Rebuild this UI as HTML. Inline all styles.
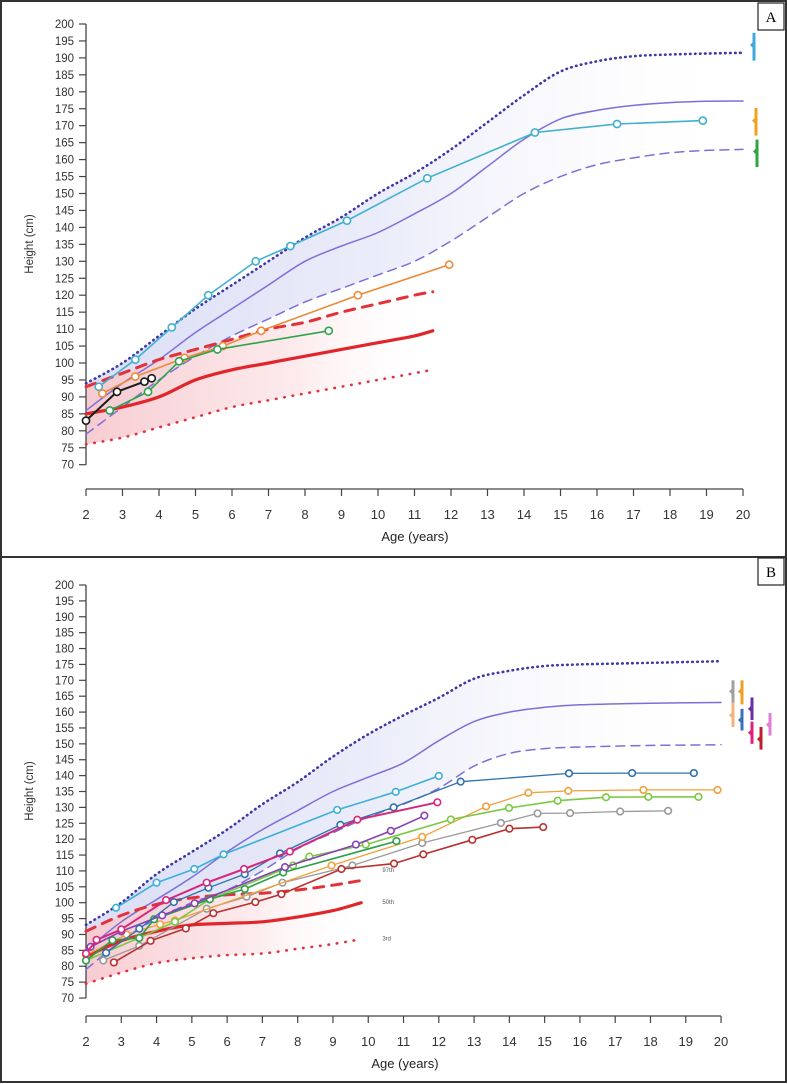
<!DOCTYPE html>
<html><head><meta charset="utf-8">
<style>
html,body{margin:0;padding:0;background:#fff;}
svg{display:block;font-family:"Liberation Sans",Arial,sans-serif;}
</style></head>
<body>
<svg id="fig" width="787" height="1084" viewBox="0 0 787 1084" xmlns="http://www.w3.org/2000/svg">
<defs>
  <linearGradient id="blueA" x1="0" x2="1" y1="0" y2="0">
    <stop offset="0" stop-color="#d9dcf5" stop-opacity="0.95"/>
    <stop offset="0.45" stop-color="#e6e8f8" stop-opacity="0.8"/>
    <stop offset="0.75" stop-color="#f4f4fb" stop-opacity="0.4"/>
    <stop offset="1" stop-color="#ffffff" stop-opacity="0"/>
  </linearGradient>
  <linearGradient id="pinkA" x1="0" x2="1" y1="0" y2="0">
    <stop offset="0" stop-color="#f7c9cf" stop-opacity="0.95"/>
    <stop offset="0.6" stop-color="#fbe1e4" stop-opacity="0.7"/>
    <stop offset="1" stop-color="#ffffff" stop-opacity="0"/>
  </linearGradient>
</defs>
<rect x="1" y="1" width="785" height="1081" fill="none" stroke="#333" stroke-width="2"/>
<line x1="1" y1="557" x2="786" y2="557" stroke="#333" stroke-width="2"/>
<g><rect x="758" y="3" width="26" height="27" fill="#fff" stroke="#222" stroke-width="1.2"/><text x="771" y="22" font-family="Liberation Serif,serif" font-size="15" text-anchor="middle">A</text></g>
<g><rect x="758" y="558" width="26" height="27" fill="#fff" stroke="#222" stroke-width="1.2"/><text x="771" y="577" font-family="Liberation Serif,serif" font-size="15" text-anchor="middle">B</text></g>
<g id="panelA"></g>
<g id="panelB"></g>
</svg>
<script>
// ---------- Panel A data ----------
const yTicks = [70,75,80,85,90,95,100,105,110,115,120,125,130,135,140,145,150,155,160,165,170,175,180,185,190,195,200];
const xTicks = [2,3,4,5,6,7,8,9,10,11,12,13,14,15,16,17,18,19,20];

const aAges = [2,3,4,5,6,7,8,9,10,11,12,13,14,15,16,17,18,19,20];
const aUpper = [94,100,108,116,123,130,137,143,150,156,163,171,179,186,189,190.5,191,191.3,191.5];
const aMedian = [86,94,101,109,116,123,130,134.5,138.5,144,150,158,166,172,174.5,176,176.8,177.2,177.3];
const aLower = [79,87,95,102,108,113,118,122,126,130,136,143,150,155,158.5,160.5,162,162.7,163];
const aFAges = [2,3,4,5,6,7,8,9,10,11,11.5];
const aFUpper = [93,97,101,104,107,110,112,115,117.5,120,121];
const aFMedian = [85,87,90,95,98,100,102,104,106,108,109.5];
const aFLower = [76,78,81,84,87,89,91,93,95,97,98];

const aCyanX = [2.35,3.35,4.35,5.35,6.65,7.6,9.15,11.35,14.3,16.55,18.9];
const aCyanY = [93,101,110.5,120,130,134.5,142,154.5,168,170.5,171.5];
const aOrangeX = [2.45,3.35,4.7,5.75,6.8,9.45,11.95];
const aOrangeY = [91,96,101.5,105,109.5,120,129];
const aGreenX = [2.65,3.7,4.55,5.6,8.65];
const aGreenY = [86,91.5,100.5,104,109.5];
const aBlackX = [2.0,2.85,3.6,3.8];
const aBlackY = [83,91.5,94.5,95.5];
const aTargetsLo = [189.2,167.1,157.8];
const aTargetsMid = [193.8,171.5,162.4];
const aTargetsHi = [197.4,175.2,165.9];

// ---------- Panel B data ----------
const bAges = [2,3,4,5,6,7,8,9,10,11,12,13,14,15,16,18,20];
const bUpper = [93,100,109,116,123,131,138,146,153,159,164.5,170.5,173,174.5,175,175.5,176];
const bMedian = [85,94,101,108,116,123,129,135,139.5,144,151,157,160,161.5,162.3,162.8,163];
const bLower = [79,88,95,100,104,110,117,122,127,131,136,143,147,148.5,149,149.5,149.7];
const bFAges = [2,3,4,5,6,7,8,9,9.8];
const bFUpper = [91,96,99.5,101.5,102.5,103,104,105.5,107];
const bFMedian = [83,88,91,93,93.5,94,95.5,97.5,100];
const bFLower = [74.5,78,81,82.5,83.5,84,85.5,87,88.5];

const bCyanX = [2.85,4.0,5.07,5.9,9.12,10.78,12.0];
const bCyanY = [98.4,106.3,110.6,115.2,129.2,134.9,139.9];
const bBlueX = [2.57,3.51,4.49,5.47,6.5,7.5,9.21,10.72,12.62,15.69,17.48,19.23];
const bBlueY = [84.2,91.8,100.2,104.7,109.0,115.5,124.5,130.0,138.1,140.7,140.8,140.8];
const bPinkX = [2.0,2.3,3.0,4.27,5.42,6.48,7.78,9.69,11.96];
const bPinkY = [84,88.3,91.6,100.8,106.3,110.6,116.1,126.1,131.6];
const bPurpleX = [2.13,3.0,4.16,5.08,7.64,9.65,10.64,11.59];
const bPurpleY = [86.1,91,96,99.8,111.2,118.3,122.6,127.4];
const bGreenX = [2.0,2.75,3.51,3.93,5.51,6.5,7.59,10.8];
const bGreenY = [81.8,88.2,88.9,94.8,101.1,104.3,109.5,119.4];
const bLimeX = [2.0,3.5,4.52,5.5,7.87,8.33,9.93,12.34,13.99,15.37,16.74,17.94,19.36];
const bLimeY = [81.8,88.9,94,101,111.7,114.5,118.3,126.2,129.8,132.1,133.2,133.3,133.3];
const bOrangeX = [2.0,3.15,4.1,4.52,8.96,11.53,13.34,14.54,15.67,17.8,19.9];
const bOrangeY = [83.5,90,93.2,94.4,111.7,120.7,130.3,134.6,135.2,135.5,135.5];
const bGreyX = [2.49,3.51,5.42,6.55,7.57,9.55,11.53,13.76,14.8,15.72,17.14,18.5];
const bGreyY = [81.8,86.4,98.1,101.9,106.3,111.7,118.8,125.1,128.1,128.2,128.7,128.9];
const bRedX = [2.79,3.83,4.83,5.61,6.8,7.54,9.24,10.73,11.56,12.95,14.0,14.96];
const bRedY = [81.2,88,91.9,96.7,100.2,102.7,110.6,112.3,115.2,119.8,123.3,123.8];
const bTargetsLo = [163,155.3,162.4,154.2,157.5,150,148.2,152.6];
const bTargetsHi = [170,163,170,161,164.6,157,155.3,159.7];
const bTargetsMid = [166.5,159,166.5,157.5,161,153.5,151.5,156];
const bPctLabels = ["97th","50th","3rd"];
const bPctValues = [110.6,100.5,89];

const NS = "http://www.w3.org/2000/svg";
function mk(parent, tag, attrs){
  const e = document.createElementNS(NS, tag);
  for (const k in attrs) e.setAttribute(k, attrs[k]);
  parent.appendChild(e);
  return e;
}
function smooth(pts){
  if (pts.length < 2) return "";
  let d = "M" + pts[0][0].toFixed(1) + "," + pts[0][1].toFixed(1);
  for (let i = 0; i < pts.length - 1; i++){
    const p0 = pts[i-1] || pts[i], p1 = pts[i], p2 = pts[i+1], p3 = pts[i+2] || p2;
    const c1x = p1[0] + (p2[0]-p0[0])/6, c1y = p1[1] + (p2[1]-p0[1])/6;
    const c2x = p2[0] - (p3[0]-p1[0])/6, c2y = p2[1] - (p3[1]-p1[1])/6;
    d += " C" + c1x.toFixed(1)+","+c1y.toFixed(1)+" "+c2x.toFixed(1)+","+c2y.toFixed(1)+" "+p2[0].toFixed(1)+","+p2[1].toFixed(1);
  }
  return d;
}

function drawPanel(g, P){
  const X = a => P.x0 + (a - 2) * P.xs;
  const Y = v => P.y200 + (200 - v) * P.ys;
  const pts = (xs, ys) => xs.map((a,i) => [X(a), Y(ys[i])]);

  // shaded bands
  const up = pts(P.ages, P.upper), lo = pts(P.ages, P.lower);
  const band = mk(g, "path", {d: smooth(up) + " L" + lo.slice().reverse().map(p=>p[0].toFixed(1)+","+p[1].toFixed(1)).join(" L") + " Z", fill:"url(#blueA)", stroke:"none"});
  
  
  const fu = pts(P.fAges, P.fUpper), fl = pts(P.fAges, P.fLower);
  const pband = mk(g, "path", {d: smooth(fu) + " L" + fl.slice().reverse().map(p=>p[0].toFixed(1)+","+p[1].toFixed(1)).join(" L") + " Z", fill:"url(#pinkA)", stroke:"none"});
  
  

  // y axis
  const ya = mk(g, "g", {});
  
  
  mk(ya, "line", {x1:P.x0, x2:P.x0, y1:Y(200), y2:Y(70), stroke:"#444", "stroke-width":1.3});
  yTicks.forEach(t => {
    mk(ya, "line", {x1:P.x0-7, x2:P.x0, y1:Y(t), y2:Y(t), stroke:"#444", "stroke-width":1.2});
    const tx = mk(ya, "text", {x:P.x0-12, y:Y(t)+4, "font-size":11.5, "text-anchor":"end", fill:"#333"});
    tx.textContent = t;
    
    
  });
  const yt = mk(g, "text", {x:0, y:0, "font-size":11.5, "text-anchor":"middle", fill:"#333", transform:"translate(" + P.ytx + "," + P.yty + ") rotate(-90)"});
  yt.textContent = "Height (cm)";
  
  

  // x axis
  const xa = mk(g, "g", {});
  
  
  mk(xa, "line", {x1:X(2), x2:X(20), y1:P.xAxisY, y2:P.xAxisY, stroke:"#444", "stroke-width":1.3});
  xTicks.forEach(t => {
    mk(xa, "line", {x1:X(t), x2:X(t), y1:P.xAxisY, y2:P.xAxisY+7, stroke:"#444", "stroke-width":1.2});
    const tx = mk(xa, "text", {x:X(t), y:P.xAxisY+30, "font-size":13, "text-anchor":"middle", fill:"#333"});
    tx.textContent = t;
    
    
  });
  const xt = mk(g, "text", {x:P.xtx, y:P.xty, "font-size":13, "text-anchor":"middle", fill:"#222"});
  xt.textContent = "Age (years)";
  
  

  // reference curves
  function curve(xs, ys, stroke, w, dash, name){
    const p = mk(g, "path", {d: smooth(pts(xs, ys)), fill:"none", stroke:stroke, "stroke-width":w, "stroke-dasharray":dash, "stroke-linecap":"round"});
    
    
  }
  curve(P.ages, P.upper, "#3d36a6", 2.6, "0.5 4.5", "male-97th-curve");
  curve(P.ages, P.median, "#7d6fd8", 1.5, "none", "male-50th-curve");
  curve(P.ages, P.lower, "#7d6fd8", 1.5, "9 6", "male-3rd-curve");
  curve(P.fAges, P.fUpper, "#e3313a", 3, "10 8", "turner-97th-curve");
  curve(P.fAges, P.fMedian, "#e0262b", 3.2, "none", "turner-50th-curve");
  curve(P.fAges, P.fLower, "#e0313d", 2.6, "0.5 8", "turner-3rd-curve");

  // patient series
  P.series.forEach(s => {
    const sg = mk(g, "g", {});
    
    
    const pp = pts(s.x, s.y);
    mk(sg, "polyline", {points: pp.map(p=>p[0].toFixed(1)+","+p[1].toFixed(1)).join(" "), fill:"none", stroke:s.c, "stroke-width":s.w || 1.6});
    pp.forEach(p => {
      const c = mk(sg, "circle", {cx:p[0], cy:p[1], r:P.r, fill:"#fff", stroke:s.c, "stroke-width":1.6});
      
      
    });
  });

  // target height markers
  P.targets.forEach(t => {
    const tg = mk(g, "g", {});
    
    
    mk(tg, "line", {x1:t.x, x2:t.x, y1:Y(t.hi), y2:Y(t.lo), stroke:t.c, "stroke-width":3});
    mk(tg, "path", {d:"M"+(t.x-4)+","+Y(t.mid)+" L"+t.x+","+(Y(t.mid)-4)+" L"+t.x+","+(Y(t.mid)+4)+" Z", fill:t.c});
  });

  // percentile labels
  (P.pct || []).forEach(l => {
    const tx = mk(g, "text", {x:X(l.a), y:Y(l.v)+3, "font-size":6, fill:"#555"});
    tx.textContent = l.t;
    
    
  });
}

drawPanel(document.getElementById("panelA"), {
  x0:86, xs:36.5, y200:24, ys:3.39, xAxisY:489, xtx:415, xty:541, ytx:33, yty:244, r:3.6,
  ages:aAges, upper:aUpper, median:aMedian, lower:aLower,
  fAges:aFAges, fUpper:aFUpper, fMedian:aFMedian, fLower:aFLower,
  series:[
    {name:"patient-cyan-series", c:"#3fb1cf", x:aCyanX, y:aCyanY},
    {name:"patient-orange-series", c:"#ee8a3a", x:aOrangeX, y:aOrangeY},
    {name:"patient-green-series", c:"#2ea44a", x:aGreenX, y:aGreenY},
    {name:"patient-black-series", c:"#1a1a1a", x:aBlackX, y:aBlackY, w:2}
  ],
  targets:[
    {x:754, c:"#3da9dc", lo:aTargetsLo[0], mid:aTargetsMid[0], hi:aTargetsHi[0]},
    {x:756, c:"#f0a020", lo:aTargetsLo[1], mid:aTargetsMid[1], hi:aTargetsHi[1]},
    {x:757, c:"#2ca640", lo:aTargetsLo[2], mid:aTargetsMid[2], hi:aTargetsHi[2]}
  ]
});

const bColors = ["#a0a0a0","#f5b27a","#f0a020","#3a6fc0","#6a2fa8","#e0207a","#c0202a","#e080d8"];
const bXs = [733,733,742,742,752,752,761,770];
const bTargets = bTargetsLo.map((lo,i) => ({x:bXs[i], c:bColors[i], lo:lo, mid:bTargetsMid[i], hi:bTargetsHi[i]}));

drawPanel(document.getElementById("panelB"), {
  x0:86, xs:35.28, y200:585, ys:3.177, xAxisY:1016, xtx:405, xty:1068, ytx:33, yty:791, r:3.3,
  ages:bAges, upper:bUpper, median:bMedian, lower:bLower,
  fAges:bFAges, fUpper:bFUpper, fMedian:bFMedian, fLower:bFLower,
  series:[
    {name:"patient-grey-series", c:"#9a9a9a", x:bGreyX, y:bGreyY, w:1.3},
    {name:"patient-darkred-series", c:"#b8312e", x:bRedX, y:bRedY},
    {name:"patient-orange-series", c:"#f2a03a", x:bOrangeX, y:bOrangeY, w:1.3},
    {name:"patient-lime-series", c:"#7ac943", x:bLimeX, y:bLimeY},
    {name:"patient-green-series", c:"#2aa04a", x:bGreenX, y:bGreenY},
    {name:"patient-purple-series", c:"#8a3fb8", x:bPurpleX, y:bPurpleY},
    {name:"patient-blue-series", c:"#2e72ad", x:bBlueX, y:bBlueY, w:1.3},
    {name:"patient-magenta-series", c:"#d6287a", x:bPinkX, y:bPinkY, w:2},
    {name:"patient-cyan-series", c:"#3bb0d8", x:bCyanX, y:bCyanY}
  ],
  targets:bTargets,
  pct: bPctLabels.map((t,i) => ({t:t, v:bPctValues[i], a:10.4}))
});
</script>
</body></html>
